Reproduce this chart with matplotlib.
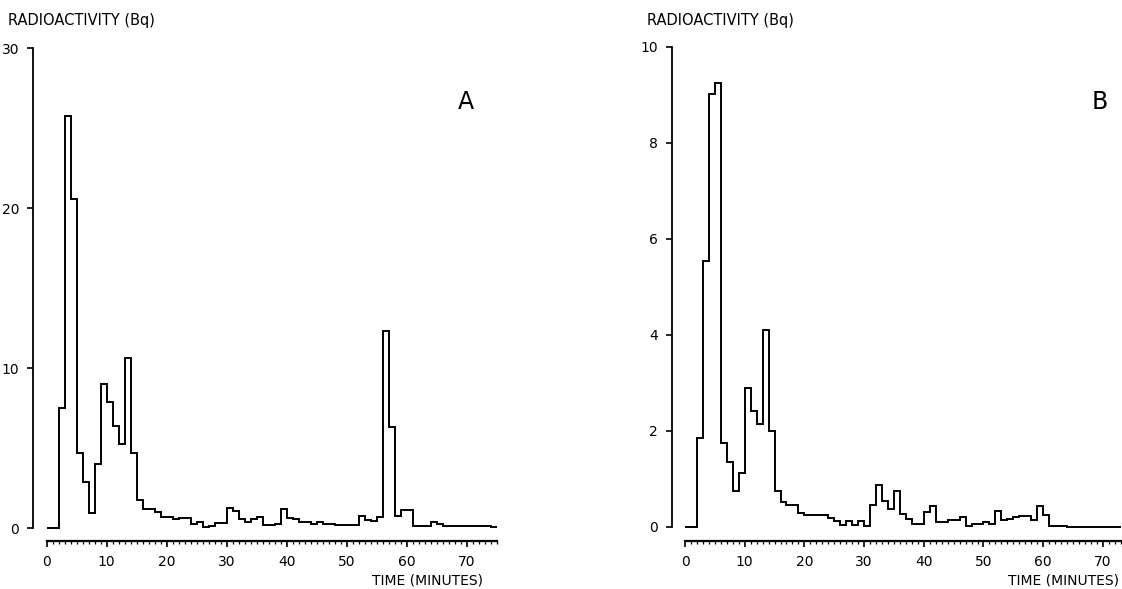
import numpy as np
import matplotlib
matplotlib.use("Agg")
import matplotlib.pyplot as plt
from matplotlib.ticker import FixedLocator

# ---- data (1-minute fractions) ----
minutes_a = list(range(0, 76))          # bin edges, panel A
activity_a = [0, 0, 7.5, 25.75, 20.55, 4.7, 2.85, 0.92, 4.0, 9.0,
              7.85, 6.4, 5.25, 10.6, 4.7, 1.75, 1.2, 1.2, 0.98, 0.7,
              0.7, 0.55, 0.65, 0.65, 0.25, 0.4, 0.08, 0.15, 0.3, 0.3,
              1.25, 1.08, 0.58, 0.35, 0.58, 0.7, 0.18, 0.2, 0.22, 1.2,
              0.65, 0.55, 0.35, 0.35, 0.22, 0.38, 0.25, 0.22, 0.2, 0.2,
              0.2, 0.2, 0.75, 0.5, 0.45, 0.7, 12.3, 6.3, 0.75, 1.1,
              1.1, 0.12, 0.12, 0.12, 0.38, 0.28, 0.15, 0.13, 0.12, 0.12,
              0.12, 0.12, 0.12, 0.1, 0.08]

minutes_b = list(range(0, 74))          # bin edges, panel B
activity_b = [0, 0, 1.86, 5.55, 9.03, 9.24, 1.75, 1.35, 0.75, 1.13,
              2.9, 2.42, 2.15, 4.1, 2.0, 0.76, 0.53, 0.45, 0.45, 0.3,
              0.25, 0.25, 0.25, 0.24, 0.18, 0.13, 0.04, 0.13, 0.04, 0.13,
              0.02, 0.45, 0.88, 0.55, 0.38, 0.74, 0.27, 0.17, 0.07, 0.07,
              0.32, 0.44, 0.11, 0.11, 0.15, 0.15, 0.2, 0.03, 0.06, 0.06,
              0.11, 0.07, 0.33, 0.15, 0.17, 0.2, 0.22, 0.22, 0.15, 0.44,
              0.24, 0.03, 0.03, 0.03, 0, 0, 0, 0, 0, 0,
              0, 0, 0]

yticks_a = [0, 10, 20, 30]
yticks_b = [0, 2, 4, 6, 8, 10]
xticks = [0, 10, 20, 30, 40, 50, 60, 70]

plt.rcParams['font.family'] = ['DejaVu Sans']

W, H = 1122, 589
fig = plt.figure(figsize=(W / 100, H / 100), dpi=100)


def px_axes(x0, x1, y_top, y_bot):
    return fig.add_axes([x0 / W, 1 - y_bot / H, (x1 - x0) / W, (y_bot - y_top) / H])


lw = 1.4
tick_fs = 10

# ---- Panel A ----
# x px = 46.7 + 6*min ; y px = 528 - 16*v
axA = px_axes(46.7 + 6 * -2.5, 46.7 + 6 * 75.5, 528 - 16 * 31, 528 - 16 * -1.0)
axA.set_xlim(-2.5, 75.5)
axA.set_ylim(-1.0, 31)
axA.stairs(activity_a, minutes_a, baseline=None, color='black', lw=lw)

# ---- Panel B ----
# x px = 685 + 5.97*min ; y px = 527 - 48*v
axB = px_axes(685 + 5.97 * -2.5, 685 + 5.97 * 73.2, 527 - 48 * 10.3, 527 - 48 * -0.35)
axB.set_xlim(-2.5, 73.2)
axB.set_ylim(-0.35, 10.3)
axB.stairs(activity_b, minutes_b, baseline=None, color='black', lw=lw)

for ax, yt, edges, yspine_x, xspine_y in [
        (axA, yticks_a, minutes_a, -2.3, -0.8),
        (axB, yticks_b, minutes_b, -2.2, -0.29)]:
    xend = edges[-1]
    for s in ['top', 'right']:
        ax.spines[s].set_visible(False)
    ax.spines['left'].set_position(('data', yspine_x))
    ax.spines['left'].set_bounds(0, yt[-1])
    ax.spines['bottom'].set_position(('data', xspine_y))
    ax.spines['bottom'].set_bounds(0, xend)
    ax.spines['left'].set_linewidth(1.3)
    ax.spines['bottom'].set_linewidth(1.6)
    ax.set_yticks(yt)
    ax.set_xticks(xticks)
    ax.xaxis.set_minor_locator(FixedLocator(edges))
    ax.tick_params(axis='both', which='major', direction='out', length=4,
                   width=1.2, labelsize=tick_fs, pad=6)
    ax.tick_params(axis='x', which='minor', direction='out', length=2, width=0.9)
    ax.patch.set_alpha(0)

axA.set_xlim(-2.5, 75.5)
axB.set_xlim(-2.5, 73.2)

# labels
lab_fs = 10.5
fig.text(8 / W, 1 - 20 / H, 'RADIOACTIVITY (Bq)', fontsize=lab_fs, va='center', ha='left')
fig.text(647 / W, 1 - 20 / H, 'RADIOACTIVITY (Bq)', fontsize=lab_fs, va='center', ha='left')
fig.text(483 / W, 1 - 581 / H, 'TIME (MINUTES)', fontsize=10, va='center', ha='right')
fig.text(1119 / W, 1 - 580 / H, 'TIME (MINUTES)', fontsize=10, va='center', ha='right')
fig.text(466 / W, 1 - 102 / H, 'A', fontsize=17, va='center', ha='center')
fig.text(1100 / W, 1 - 102 / H, 'B', fontsize=17, va='center', ha='center')

fig.savefig('out.png', dpi=100)
